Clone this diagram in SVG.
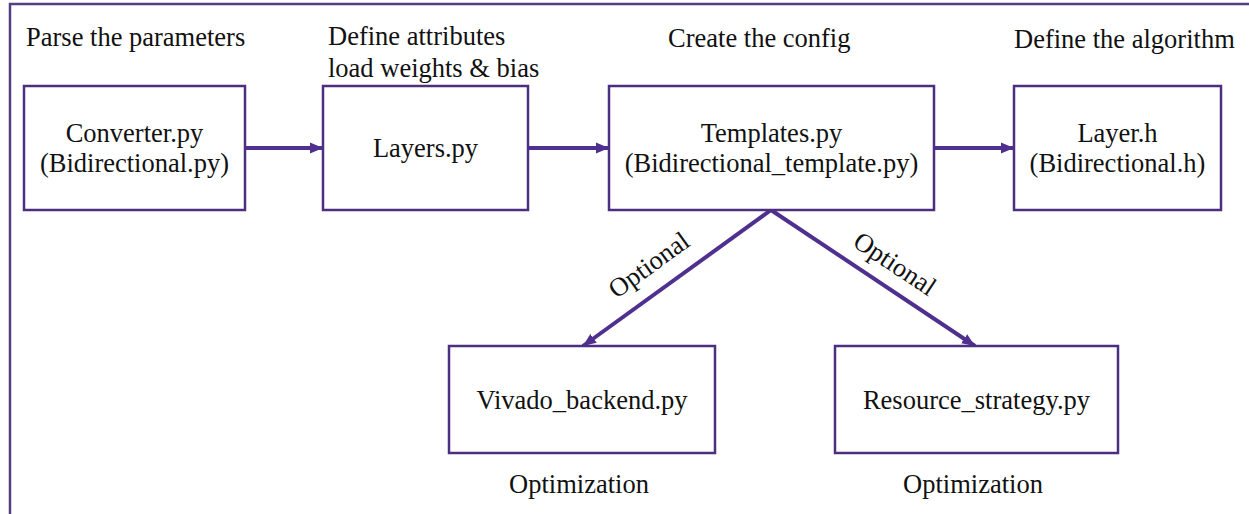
<svg xmlns="http://www.w3.org/2000/svg" width="1249" height="514" viewBox="0 0 1249 514">
  <style>
    .frame { fill: none; stroke: #55407f; stroke-width: 2.5; }
    .box { fill: #ffffff; stroke: #4b2f80; stroke-width: 2.5; }
    .edge { fill: none; stroke: #50308f; stroke-width: 4; }
    text { font-family: "Liberation Serif", "Times New Roman", serif; font-size: 26.5px; fill: #111111; }
    .mid { text-anchor: middle; }
  </style>
  <defs>
    <marker id="arrow" markerUnits="userSpaceOnUse" markerWidth="14" markerHeight="12" refX="13" refY="6" orient="auto">
      <path d="M0,0.5 L13,6 L0,11.5 Z" fill="#50308f"/>
    </marker>
  </defs>

  <rect class="frame" x="10" y="4" width="1260" height="530"/>

  <!-- stage captions -->
  <g id="captions">
    <text x="26" y="46">Parse the parameters</text>
    <text x="328" y="45">Define attributes</text>
    <text x="328" y="77">load weights &amp; bias</text>
    <text x="668" y="47">Create the config</text>
    <text x="1014" y="48">Define the algorithm</text>
    <text class="mid" x="579" y="493">Optimization</text>
    <text class="mid" x="973" y="493">Optimization</text>
  </g>

  <g id="connectors">
    <line class="edge" x1="245" y1="148" x2="323" y2="148" marker-end="url(#arrow)"/>
    <line class="edge" x1="528" y1="148" x2="609" y2="148" marker-end="url(#arrow)"/>
    <line class="edge" x1="934" y1="148" x2="1014" y2="148" marker-end="url(#arrow)"/>
    <line class="edge" x1="771" y1="210" x2="583" y2="346" marker-end="url(#arrow)"/>
    <line class="edge" x1="771" y1="210" x2="975" y2="346" marker-end="url(#arrow)"/>
    <text class="mid" transform="translate(654,272) rotate(-35.9)">Optional</text>
    <text class="mid" transform="translate(890,271) rotate(33.7)">Optional</text>
  </g>

  <g id="converter">
    <rect class="box" x="24" y="86" width="221" height="124"/>
    <text class="mid" x="134.5" y="142">Converter.py</text>
    <text class="mid" x="134.5" y="172">(Bidirectional.py)</text>
  </g>

  <g id="layers">
    <rect class="box" x="323" y="86" width="205" height="124"/>
    <text class="mid" x="425.5" y="157">Layers.py</text>
  </g>

  <g id="templates">
    <rect class="box" x="609" y="86" width="325" height="124"/>
    <text class="mid" x="771.5" y="142">Templates.py</text>
    <text class="mid" x="771.5" y="172">(Bidirectional_template.py)</text>
  </g>

  <g id="layer_h">
    <rect class="box" x="1014" y="86" width="207" height="124"/>
    <text class="mid" x="1117.5" y="142">Layer.h</text>
    <text class="mid" x="1117.5" y="172">(Bidirectional.h)</text>
  </g>

  <g id="vivado_backend">
    <rect class="box" x="449" y="346" width="266" height="107"/>
    <text class="mid" x="582" y="409">Vivado_backend.py</text>
  </g>

  <g id="resource_strategy">
    <rect class="box" x="835" y="346" width="283" height="107"/>
    <text class="mid" x="976.5" y="409">Resource_strategy.py</text>
  </g>
</svg>
